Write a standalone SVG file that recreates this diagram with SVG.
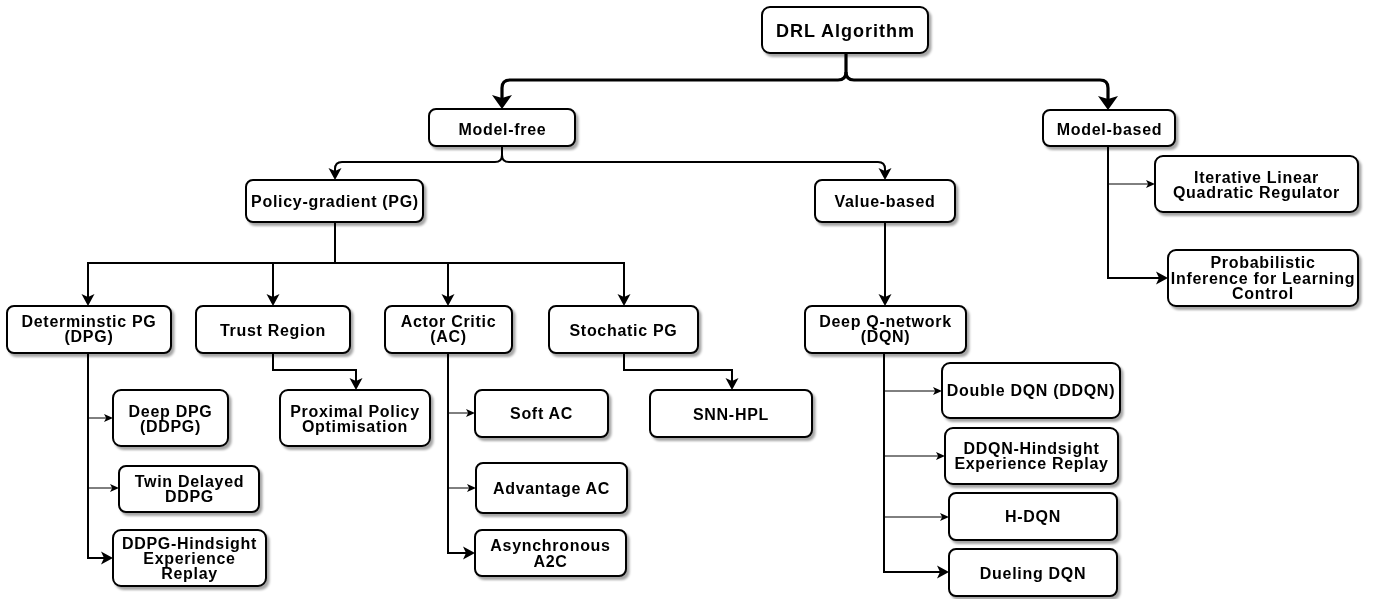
<svg xmlns="http://www.w3.org/2000/svg" width="1374" height="599" viewBox="0 0 1374 599">
<style>
.bx{fill:#fff;stroke:#000;stroke-width:2}
.t{font-family:"Liberation Sans",Arial,sans-serif;font-weight:bold;font-size:16px;letter-spacing:0.7px;fill:#000;text-anchor:middle}
.big{font-size:18px;letter-spacing:1px}
.c3{fill:none;stroke:#000;stroke-width:3.2}
.c2{fill:none;stroke:#000;stroke-width:2}
.c1{fill:none;stroke:#000;stroke-width:1}
</style>
<defs>
<filter id="sh" x="-10%" y="-10%" width="130%" height="140%">
<feDropShadow dx="2.5" dy="3" stdDeviation="1.2" flood-color="#000" flood-opacity="0.35"/>
</filter>
<marker id="aL" markerUnits="userSpaceOnUse" markerWidth="16" markerHeight="22" viewBox="0 0 16 22" refX="8" refY="11" orient="auto">
<path d="M0,1 L14,11 L0,21 L3,11 Z" fill="#000"/>
</marker>
<marker id="aM" markerUnits="userSpaceOnUse" markerWidth="16" markerHeight="16" viewBox="0 0 16 16" refX="7" refY="8" orient="auto">
<path d="M0,1.5 L12,8 L0,14.5 L3,8 Z" fill="#000"/>
</marker>
<marker id="aS" markerUnits="userSpaceOnUse" markerWidth="11" markerHeight="11" viewBox="0 0 11 11" refX="5" refY="5.5" orient="auto">
<path d="M0,1.5 L9,5.5 L0,9.5 L2.2,5.5 Z" fill="#000"/>
</marker>
</defs>

<g id="connectors">
<path class="c3" d="M846,53 V72 Q846,80 838,80 H510 Q502,80 502,88 V103" marker-end="url(#aL)"/>
<path class="c3" d="M846,72 Q846,80 854,80 H1100 Q1108,80 1108,88 V104" marker-end="url(#aL)"/>
<path class="c2" d="M502,146 V155 Q502,162 495,162 H342 Q335,162 335,169 V175" marker-end="url(#aM)"/>
<path class="c2" d="M502,155 Q502,162 509,162 H878 Q885,162 885,169 V175" marker-end="url(#aM)"/>
<path class="c2" d="M1108,146 V278 H1163" marker-end="url(#aM)"/>
<path class="c1" d="M1108,184 H1151" marker-end="url(#aS)"/>
<path class="c2" d="M335,222 V263 H88 V301" marker-end="url(#aM)"/>
<path class="c2" d="M335,263 H624 V301" marker-end="url(#aM)"/>
<path class="c2" d="M273,263 V301" marker-end="url(#aM)"/>
<path class="c2" d="M448,263 V301" marker-end="url(#aM)"/>
<path class="c2" d="M885,222 V301" marker-end="url(#aM)"/>
<path class="c2" d="M88,353 V558 H108" marker-end="url(#aM)"/>
<path class="c1" d="M88,418 H109" marker-end="url(#aS)"/>
<path class="c1" d="M88,488 H115" marker-end="url(#aS)"/>
<path class="c2" d="M273,353 V370 H356 V385" marker-end="url(#aM)"/>
<path class="c2" d="M448,353 V553 H470" marker-end="url(#aM)"/>
<path class="c1" d="M448,413 H471" marker-end="url(#aS)"/>
<path class="c1" d="M448,488 H472" marker-end="url(#aS)"/>
<path class="c2" d="M624,353 V370 H732 V385" marker-end="url(#aM)"/>
<path class="c2" d="M884,353 V572 H944" marker-end="url(#aM)"/>
<path class="c1" d="M884,391 H938" marker-end="url(#aS)"/>
<path class="c1" d="M884,456 H941" marker-end="url(#aS)"/>
<path class="c1" d="M884,517 H945" marker-end="url(#aS)"/>
</g>

<g id="n-drl" filter="url(#sh)"><rect class="bx" x="762" y="7" width="166" height="46" rx="8"/><text class="t big" x="845.5" y="36.5">DRL Algorithm</text></g>
<g id="n-modelfree" filter="url(#sh)"><rect class="bx" x="429" y="109" width="146" height="37" rx="7"/><text class="t" x="502.5" y="134.5">Model-free</text></g>
<g id="n-modelbased" filter="url(#sh)"><rect class="bx" x="1043" y="110" width="132" height="36" rx="7"/><text class="t" x="1109.5" y="135">Model-based</text></g>
<g id="n-pg" filter="url(#sh)"><rect class="bx" x="246" y="180" width="177" height="42" rx="7"/><text class="t" x="335" y="207">Policy-gradient (PG)</text></g>
<g id="n-value" filter="url(#sh)"><rect class="bx" x="815" y="180" width="140" height="42" rx="7"/><text class="t" x="885" y="207">Value-based</text></g>
<g id="n-dpg" filter="url(#sh)"><rect class="bx" x="7" y="306" width="164" height="47" rx="7"/><text class="t" x="89" y="327">Determinstic PG</text><text class="t" x="89" y="342">(DPG)</text></g>
<g id="n-trust" filter="url(#sh)"><rect class="bx" x="196" y="306" width="154" height="47" rx="7"/><text class="t" x="273" y="336">Trust Region</text></g>
<g id="n-ac" filter="url(#sh)"><rect class="bx" x="385" y="306" width="127" height="47" rx="7"/><text class="t" x="448.5" y="327">Actor Critic</text><text class="t" x="448.5" y="342">(AC)</text></g>
<g id="n-spg" filter="url(#sh)"><rect class="bx" x="549" y="306" width="149" height="47" rx="7"/><text class="t" x="623.5" y="336">Stochatic PG</text></g>
<g id="n-dqn" filter="url(#sh)"><rect class="bx" x="805" y="306" width="161" height="47" rx="7"/><text class="t" x="885.5" y="327">Deep Q-network</text><text class="t" x="885.5" y="342">(DQN)</text></g>
<g id="n-ilqr" filter="url(#sh)"><rect class="bx" x="1155" y="156" width="203" height="56" rx="8"/><text class="t" x="1256.5" y="183">Iterative Linear</text><text class="t" x="1256.5" y="198">Quadratic Regulator</text></g>
<g id="n-pilco" filter="url(#sh)"><rect class="bx" x="1168" y="250" width="190" height="56" rx="8"/><text class="t" x="1263" y="268">Probabilistic</text><text class="t" x="1263" y="283.5">Inference for Learning</text><text class="t" x="1263" y="299">Control</text></g>
<g id="n-ddpg" filter="url(#sh)"><rect class="bx" x="113" y="390" width="115" height="56" rx="8"/><text class="t" x="170.5" y="417">Deep DPG</text><text class="t" x="170.5" y="432">(DDPG)</text></g>
<g id="n-td3" filter="url(#sh)"><rect class="bx" x="119" y="466" width="140" height="46" rx="7"/><text class="t" x="189.5" y="487">Twin Delayed</text><text class="t" x="189.5" y="502">DDPG</text></g>
<g id="n-ddpgher" filter="url(#sh)"><rect class="bx" x="113" y="530" width="153" height="56" rx="8"/><text class="t" x="189.5" y="549">DDPG-Hindsight</text><text class="t" x="189.5" y="564">Experience</text><text class="t" x="189.5" y="579">Replay</text></g>
<g id="n-ppo" filter="url(#sh)"><rect class="bx" x="280" y="390" width="150" height="56" rx="8"/><text class="t" x="355" y="417">Proximal Policy</text><text class="t" x="355" y="432">Optimisation</text></g>
<g id="n-sac" filter="url(#sh)"><rect class="bx" x="475" y="390" width="133" height="47" rx="7"/><text class="t" x="541.5" y="419">Soft AC</text></g>
<g id="n-a2c" filter="url(#sh)"><rect class="bx" x="476" y="463" width="151" height="50" rx="7"/><text class="t" x="551.5" y="494">Advantage AC</text></g>
<g id="n-a3c" filter="url(#sh)"><rect class="bx" x="475" y="530" width="151" height="46" rx="7"/><text class="t" x="550.5" y="551">Asynchronous</text><text class="t" x="550.5" y="567">A2C</text></g>
<g id="n-snn" filter="url(#sh)"><rect class="bx" x="650" y="390" width="162" height="47" rx="7"/><text class="t" x="731" y="420">SNN-HPL</text></g>
<g id="n-ddqn" filter="url(#sh)"><rect class="bx" x="942" y="363" width="178" height="55" rx="8"/><text class="t" x="1031" y="396">Double DQN (DDQN)</text></g>
<g id="n-ddqnher" filter="url(#sh)"><rect class="bx" x="945" y="428" width="173" height="56" rx="8"/><text class="t" x="1031.5" y="454">DDQN-Hindsight</text><text class="t" x="1031.5" y="469">Experience Replay</text></g>
<g id="n-hdqn" filter="url(#sh)"><rect class="bx" x="949" y="493" width="168" height="47" rx="7"/><text class="t" x="1033" y="522">H-DQN</text></g>
<g id="n-dueling" filter="url(#sh)"><rect class="bx" x="949" y="549" width="168" height="47" rx="7"/><text class="t" x="1033" y="579">Dueling DQN</text></g>
</svg>
